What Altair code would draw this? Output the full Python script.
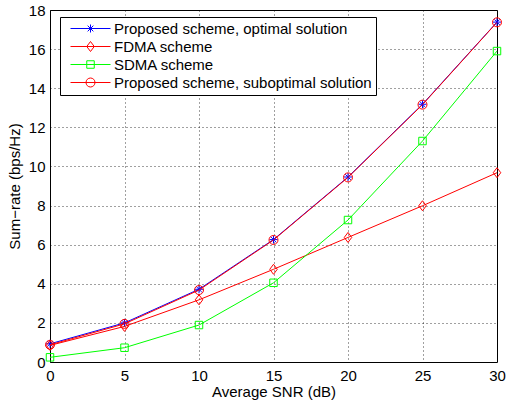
import altair as alt
import pandas as pd

FONT = "Liberation Sans"

snr = [0, 5, 10, 15, 20, 25, 30]
names = [
    "Proposed scheme, optimal solution",
    "FDMA scheme",
    "SDMA scheme",
    "Proposed scheme, suboptimal solution",
]
optimal = [0.93, 2.00, 3.72, 6.26, 9.46, 13.18, 17.38]
fdma = [0.85, 1.82, 3.18, 4.74, 6.37, 7.99, 9.68]
sdma = [0.24, 0.73, 1.89, 4.05, 7.26, 11.30, 15.90]
subopt = [0.88, 1.95, 3.68, 6.24, 9.44, 13.16, 17.37]
colors = ["#0000ff", "#ff0000", "#00ff00", "#ff0000"]
x_ticks = [0, 5, 10, 15, 20, 25, 30]
y_ticks = [0, 2, 4, 6, 8, 10, 12, 14, 16, 18]

series_values = [optimal, fdma, sdma, subopt]
rows = []
for name, vals in zip(names, series_values):
    for s, v in zip(snr, vals):
        rows.append({"snr": s, "rate": v, "series": name})
df = pd.DataFrame(rows)

# plot markers (unit-space paths, scaled by sqrt(size)/2)
marker_shapes = [
    "M-1,0L1,0M0,-1L0,1M-0.7,-0.7L0.7,0.7M-0.7,0.7L0.7,-0.7",
    "M0,-1L0.75,0L0,1L-0.75,0Z",
    "square",
    "circle",
]
marker_sizes = [64, 100, 56, 81]

# legend symbols: line segment plus marker
legend_paths = [
    "M-4,0L4,0M-0.8,0L0.8,0M0,-0.8L0,0.8M-0.57,-0.57L0.57,0.57M-0.57,0.57L0.57,-0.57",
    "M-4,0L4,0M0,-1L0.75,0L0,1L-0.75,0Z",
    "M-4,0L4,0M-0.75,-0.75L0.75,-0.75L0.75,0.75L-0.75,0.75Z",
    "M-4,0L4,0M0.9,0A0.9,0.9,0,1,1,-0.9,0A0.9,0.9,0,1,1,0.9,0Z",
]
expr = ""
for n, p in zip(names[:-1], legend_paths[:-1]):
    expr += f"datum.value === '{n}' ? '{p}' : "
expr += f"'{legend_paths[-1]}'"

legend = alt.Legend(
    title=None,
    orient="none",
    legendX=10,
    legendY=7,
    direction="vertical",
    fillColor="white",
    strokeColor="black",
    padding=4,
    labelFont=FONT,
    labelFontSize=15,
    labelColor="black",
    labelLimit=600,
    labelExpr="datum.label + '\u00a0\u00a0\u00a0\u00a0'",
    symbolSize=100,
    symbolStrokeWidth=1,
    symbolOffset=19,
    labelOffset=16,
    rowPadding=2,
    symbolType={"expr": expr},
    symbolFillColor="transparent",
)

x_enc = alt.X(
    "snr:Q",
    scale=alt.Scale(domain=[0, 30], nice=False, zero=False),
    axis=alt.Axis(
        values=x_ticks,
        title="Average SNR (dB)",
        ticks=False,
        domain=False,
        labelPadding=6,
        labelFlush=False,
        titleBaseline="alphabetic",
        titleY=34,
    ),
)
y_enc = alt.Y(
    "rate:Q",
    scale=alt.Scale(domain=[0, 18], nice=False),
    axis=alt.Axis(
        values=y_ticks,
        title="Sum\u2212rate (bps/Hz)",
        ticks=False,
        domain=False,
        labelPadding=5,
        labelFlush=False,
        titleBaseline="alphabetic",
        titleX=-31,
    ),
)
color_enc = alt.Color(
    "series:N",
    scale=alt.Scale(domain=names, range=colors),
    legend=legend,
)

base = alt.Chart(df)
layers = []
for name, col, shp, sz in zip(names, colors, marker_shapes, marker_sizes):
    sub = base.transform_filter(alt.datum.series == name)
    layers.append(
        sub.mark_line(strokeWidth=1).encode(x=x_enc, y=y_enc, color=color_enc)
    )
    layers.append(
        sub.mark_point(
            shape=shp, size=sz, color=col, filled=False, strokeWidth=1, opacity=1
        ).encode(x=x_enc, y=y_enc)
    )

chart = (
    alt.layer(*layers)
    .properties(
        width=447,
        height=352,
        padding={"left": 50, "top": 10, "right": 9, "bottom": 42},
        autosize=alt.AutoSizeParams(type="none"),
        background="white",
    )
    .configure_view(stroke="black", strokeWidth=1)
    .configure_axis(
        grid=True,
        gridColor="black",
        gridDash=[1, 3],
        gridOpacity=0.75,
        gridWidth=1,
        labelFont=FONT,
        titleFont=FONT,
        labelFontSize=15,
        titleFontSize=15,
        titleFontWeight="normal",
        labelColor="black",
        titleColor="black",
    )
)

chart.save("out.html", embed_options={"renderer": "svg", "actions": False})
